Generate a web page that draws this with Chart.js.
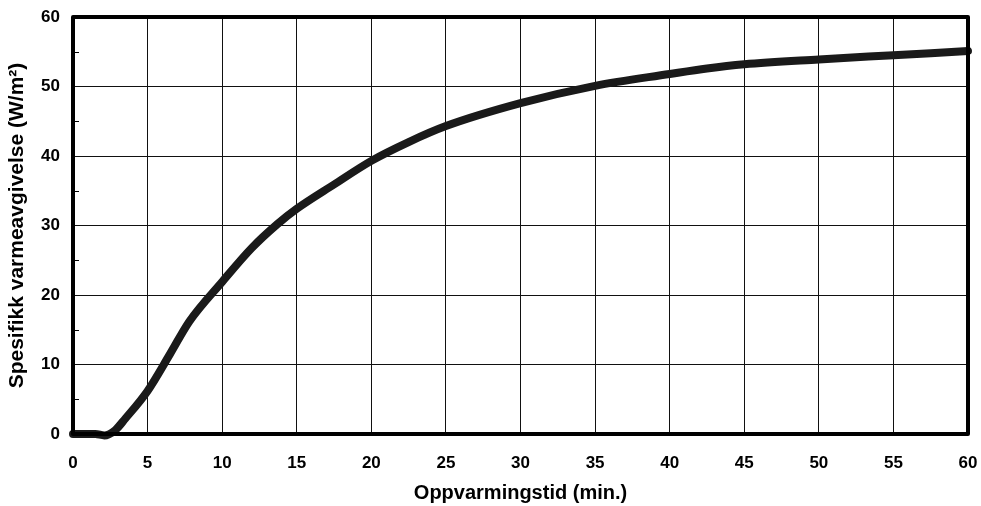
<!DOCTYPE html>
<html lang="no">
<head>
    <meta charset="UTF-8">
    <title>Spesifikk varmeavgivelse</title>
    <style>
        * { margin: 0; padding: 0; box-sizing: border-box; }
        body { background: #fff; width: 981px; height: 506px; overflow: hidden; }
        canvas { display: block; }
    </style>
    <script src="https://cdn.jsdelivr.net/npm/chart.js"></script>
</head>
<body>
    <canvas id="heatChart" width="981" height="506"></canvas>

    <script>
        // Data
        const minutes = [0, 1.5, 2.1, 2.8, 3.5, 5, 6.5, 7.8, 10, 12, 13.7, 15, 17.5, 20, 22.5, 25, 30, 35, 40, 42.5, 45, 50, 55, 60];
        const heatOutput = [0, 0, -0.2, 0.5, 2.2, 6.2, 11.5, 16.2, 21.9, 26.8, 30.2, 32.4, 35.9, 39.3, 42, 44.3, 47.6, 50.1, 51.8, 52.6, 53.2, 53.9, 54.5, 55.1];
        const minorYTicks = [5, 15, 25, 35, 45, 55];

        const points = minutes.map((m, i) => ({ x: m, y: heatOutput[i] }));
        const font = { family: 'Liberation Sans, Arial, sans-serif', weight: 'bold' };

        const frame = {
            id: 'frame',
            afterDatasetsDraw(chart) {
                const { ctx, chartArea: a, scales } = chart;
                ctx.save();
                // small inner tick marks on the value axis
                ctx.strokeStyle = '#000';
                ctx.lineWidth = 1;
                minorYTicks.forEach(v => {
                    const y = Math.round(scales.y.getPixelForValue(v)) + 0.5;
                    ctx.beginPath();
                    ctx.moveTo(a.left, y);
                    ctx.lineTo(a.left + 6, y);
                    ctx.stroke();
                });
                ctx.lineWidth = 4;
                ctx.lineJoin = 'round';
                ctx.strokeRect(a.left, a.top, a.right - a.left, a.bottom - a.top);
                ctx.restore();
            }
        };

        new Chart(document.getElementById('heatChart'), {
            type: 'line',
            data: {
                datasets: [{
                    data: points,
                    borderColor: '#1a1a1a',
                    borderWidth: 8,
                    pointRadius: 0,
                    fill: false,
                    cubicInterpolationMode: 'monotone',
                    borderCapStyle: 'round',
                    clip: false
                }]
            },
            options: {
                responsive: false,
                animation: false,
                layout: { padding: { top: 17, right: 13, left: 0, bottom: 0 } },
                plugins: { legend: { display: false }, tooltip: { enabled: false } },
                scales: {
                    x: {
                        type: 'linear',
                        min: 0, max: 60,
                        afterFit(s) { s.height = 72; s.paddingLeft = 0; s.paddingRight = 0; },
                        ticks: { stepSize: 5, color: '#000', padding: 19, font: { ...font, size: 17 } },
                        grid: { color: '#111', lineWidth: 1, drawTicks: false },
                        border: { display: false },
                        title: { display: true, text: 'Oppvarmingstid (min.)', color: '#000', padding: { top: 0, bottom: 1 }, font: { ...font, size: 20 } }
                    },
                    y: {
                        min: 0, max: 60,
                        afterFit(s) { s.width = 73; s.paddingTop = 0; s.paddingBottom = 0; },
                        ticks: { stepSize: 10, color: '#000', padding: 13, font: { ...font, size: 17 } },
                        grid: { color: '#111', lineWidth: 1, drawTicks: false },
                        border: { display: false },
                        title: { display: true, text: 'Spesifikk varmeavgivelse (W/m²)', color: '#000', padding: { top: 5, bottom: 0 }, font: { ...font, size: 21 } }
                    }
                }
            },
            plugins: [frame]
        });
    </script>
</body>
</html>
